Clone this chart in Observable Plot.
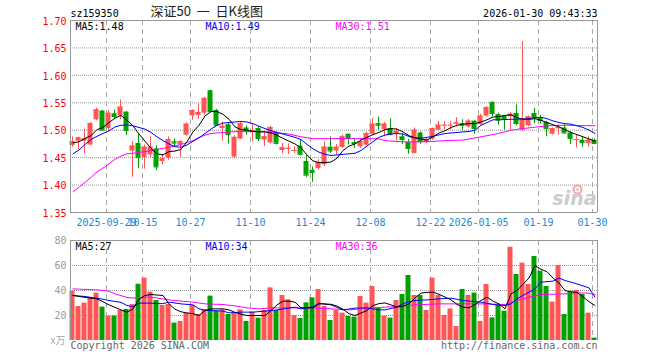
<!DOCTYPE html>
<html><head><meta charset="utf-8">
<script src="https://cdn.jsdelivr.net/npm/d3@7"></script>
<script src="https://cdn.jsdelivr.net/npm/@observablehq/plot@0.6"></script>
<style>
body{margin:0;background:#fff;}
#chart{position:relative;width:660px;height:360px;overflow:hidden;background:#fff;}
#chart svg{position:absolute;left:0;}
</style></head><body><div id="chart"></div>
<script>
const dates = ["2025-09-19","2025-09-22","2025-09-23","2025-09-24","2025-09-25","2025-09-26","2025-09-29","2025-09-30","2025-10-09","2025-10-10",
"2025-10-13","2025-10-14","2025-10-15","2025-10-16","2025-10-17","2025-10-20","2025-10-21","2025-10-22","2025-10-23","2025-10-24",
"2025-10-27","2025-10-28","2025-10-29","2025-10-30","2025-10-31","2025-11-03","2025-11-04","2025-11-05","2025-11-06","2025-11-07",
"2025-11-10","2025-11-11","2025-11-12","2025-11-13","2025-11-14","2025-11-17","2025-11-18","2025-11-19","2025-11-20","2025-11-21",
"2025-11-24","2025-11-25","2025-11-26","2025-11-27","2025-11-28","2025-12-01","2025-12-02","2025-12-03","2025-12-04","2025-12-05",
"2025-12-08","2025-12-09","2025-12-10","2025-12-11","2025-12-12","2025-12-15","2025-12-16","2025-12-17","2025-12-18","2025-12-19",
"2025-12-22","2025-12-23","2025-12-24","2025-12-25","2025-12-26","2025-12-29","2025-12-30","2025-12-31","2026-01-05","2026-01-06",
"2026-01-07","2026-01-08","2026-01-09","2026-01-12","2026-01-13","2026-01-14","2026-01-15","2026-01-16","2026-01-19","2026-01-20",
"2026-01-21","2026-01-22","2026-01-23","2026-01-26","2026-01-27","2026-01-28","2026-01-29","2026-01-30"];

const open = [1.472,1.480,1.480,1.473,1.519,1.535,1.503,1.530,1.526,1.533,
1.462,1.476,1.450,1.455,1.466,1.443,1.449,1.479,1.4733,1.491,
1.526,1.527,1.531,1.572,1.536,1.503,1.510,1.451,1.484,1.504,
1.496,1.503,1.482,1.477,1.4957,1.463,1.466,1.462,1.471,1.443,
1.427,1.430,1.437,1.469,1.462,1.4685,1.4927,1.4776,1.4697,1.4727,
1.4927,1.512,1.501,1.503,1.4927,1.488,1.4776,1.4576,1.495,1.4776,
1.4836,1.500,1.5085,1.5085,1.511,1.512,1.506,1.5165,1.510,1.5257,
1.5507,1.5287,1.5257,1.5244,1.5305,1.500,1.508,1.5305,1.522,1.514,
1.4927,1.503,1.504,1.495,1.4823,1.4817,1.4756,1.4817];
const high = [1.488,1.487,1.502,1.514,1.540,1.536,1.536,1.537,1.555,1.534,
1.479,1.493,1.473,1.488,1.471,1.455,1.488,1.484,1.481,1.513,
1.537,1.548,1.560,1.573,1.538,1.515,1.512,1.490,1.514,1.508,
1.510,1.506,1.497,1.507,1.497,1.476,1.475,1.470,1.482,1.455,
1.433,1.446,1.479,1.488,1.474,1.491,1.493,1.485,1.484,1.496,
1.521,1.5236,1.514,1.5206,1.503,1.494,1.483,1.504,1.497,1.485,
1.504,1.516,1.516,1.516,1.523,1.519,1.5196,1.518,1.529,1.543,
1.552,1.531,1.527,1.532,1.546,1.662,1.526,1.5397,1.527,1.516,
1.504,1.510,1.510,1.497,1.491,1.488,1.488,1.484];
const low = [1.469,1.465,1.457,1.4715,1.517,1.499,1.497,1.519,1.519,1.490,
1.414,1.430,1.429,1.450,1.426,1.437,1.445,1.470,1.451,1.489,
1.518,1.520,1.528,1.533,1.507,1.480,1.475,1.449,1.483,1.491,
1.479,1.479,1.470,1.475,1.473,1.457,1.456,1.458,1.453,1.414,
1.405,1.428,1.434,1.458,1.455,1.467,1.473,1.467,1.467,1.471,
1.491,1.500,1.488,1.491,1.480,1.474,1.456,1.457,1.474,1.476,
1.482,1.499,1.500,1.501,1.506,1.500,1.504,1.4927,1.509,1.524,
1.524,1.509,1.500,1.500,1.508,1.497,1.506,1.512,1.511,1.488,
1.491,1.491,1.493,1.474,1.4676,1.469,1.469,1.474];
const close = [1.479,1.486,1.484,1.512,1.537,1.500,1.531,1.525,1.542,1.4995,
1.471,1.450,1.469,1.469,1.433,1.448,1.483,1.4765,1.479,1.511,
1.536,1.532,1.558,1.534,1.509,1.507,1.492,1.487,1.512,1.499,
1.499,1.485,1.488,1.505,1.476,1.468,1.467,1.463,1.456,1.418,
1.423,1.441,1.469,1.462,1.469,1.488,1.4848,1.4758,1.479,1.494,
1.511,1.509,1.511,1.492,1.498,1.483,1.4667,1.500,1.479,1.482,
1.503,1.509,1.509,1.509,1.5133,1.509,1.5165,1.503,1.5257,1.541,
1.5305,1.5183,1.5214,1.5293,1.5122,1.5183,1.5244,1.5226,1.518,1.503,
1.503,1.5045,1.495,1.4847,1.483,1.4774,1.4817,1.4756];
const volume = [39.5,27.2,29.9,34.1,37.9,26.7,19.5,19.5,24.0,24.8,
28.8,45.0,49.9,38.7,32.0,28.0,28.8,13.9,15.2,21.9,
28.0,20.8,24.5,35.5,23.5,24.5,20.8,21.9,24.5,15.2,
22.7,17.9,24.0,42.1,24.0,36.0,32.5,20.0,17.6,30.1,
34.1,40.8,27.2,16.0,24.0,21.9,19.2,18.7,35.2,29.9,
43.2,26.1,19.5,17.9,32.0,36.8,52.0,36.0,36.0,24.0,
49.9,36.0,20.0,25.3,11.2,40.8,36.0,37.9,15.2,44.8,
18.1,28.0,23.5,74.6,52.8,61.9,44.8,67.2,55.5,43.2,
30.7,60.0,20.8,38.7,40.0,36.8,21.9,1.9];

const ma5 = [1.477,1.479,1.485,1.490,1.501,1.505,1.514,1.522,1.527,1.518,
1.508,1.493,1.480,1.467,1.457,1.455,1.461,1.462,1.465,1.479,
1.497,1.509,1.526,1.534,1.534,1.529,1.520,1.506,1.501,1.500,
1.498,1.497,1.497,1.495,1.491,1.485,1.480,1.475,1.468,1.455,
1.444,1.441,1.441,1.442,1.449,1.463,1.471,1.475,1.482,1.487,
1.492,1.496,1.501,1.503,1.502,1.497,1.490,1.486,1.484,1.482,
1.488,1.495,1.499,1.505,1.509,1.511,1.512,1.512,1.515,1.519,
1.524,1.525,1.527,1.528,1.523,1.520,1.520,1.521,1.518,1.514,
1.510,1.506,1.501,1.496,1.492,1.488,1.484,1.480];
const ma10 = [1.457,1.464,1.474,1.483,1.489,1.494,1.499,1.506,1.509,1.5097,
1.508,1.505,1.502,1.496,1.488,1.481,1.475,1.470,1.469,1.473,
1.480,1.486,1.494,1.502,1.509,1.513,1.514,1.515,1.516,1.515,
1.512,1.507,1.503,1.499,1.496,1.493,1.490,1.487,1.483,1.474,
1.466,1.460,1.456,1.454,1.455,1.456,1.457,1.458,1.463,1.471,
1.479,1.487,1.491,1.493,1.494,1.493,1.4885,1.486,1.4855,1.487,
1.489,1.4915,1.494,1.495,1.4958,1.497,1.4976,1.500,1.509,1.514,
1.519,1.519,1.5195,1.520,1.520,1.5205,1.521,1.523,1.5237,1.521,
1.517,1.514,1.512,1.511,1.508,1.505,1.500,1.494];
const ma30 = [[0,1.388],[1,1.396],[2,1.405],[3,1.414],[4,1.424],[5,1.431],[6,1.439],[7,1.447],[8,1.453],[9,1.457],
[10,1.458],[12,1.461],[14,1.465],[16,1.469],[18,1.474],[20,1.481],[21,1.487],[22,1.491],[23,1.494],[25,1.496],
[27,1.4975],[31,1.4975],[34,1.4955],[36,1.493],[38,1.488],[40,1.4845],[45,1.4848],[50,1.4845],[51,1.4842],[52,1.481],
[54,1.4795],[56,1.4785],[59,1.479],[62,1.481],[65,1.482],[67,1.486],[69,1.490],[70,1.492],[72,1.497],[73,1.500],
[75,1.503],[77,1.5055],[79,1.508],[82,1.509],[87,1.508]];

const volMA5 = [[0,36],[2,34.5],[4,33.3],[5,31],[6,28.5],[7,26.5],[8,24.5],[9,22.7],[10,25.3],[11,33],[12,36],[13,36.8],[15,36],[16,29.3],[17,25],[18,23],[19,22],[20,21.5],[21,20],[22,24],[23,25.3],[25,25.3],[26,24.5],[27,22.5],[28,21],[29,20],[32,20],[33,24],[34,28.5],[35,31.5],[36,31.5],[37,30.7],[38,26.1],[40,26.1],[41,29.3],[43,29],[44,27.5],[45,25],[46,21.5],[47,20],[48,22],[49,24],[50,28],[51,29.5],[52,30.1],[53,28.5],[54,26.7],[55,27.5],[56,29.3],[57,34],[58,37.9],[59,38.5],[60,38.7],[61,37],[62,34.7],[63,32.5],[64,29],[65,26.7],[66,26.1],[67,29],[68,32],[69,34.7],[70,31.5],[71,29.3],[72,25.3],[73,37.3],[74,40],[75,45],[76,50],[77,60],[78,57],[79,55],[80,50],[81,46],[82,40],[83,39],[84,38.5],[85,35],[86,31],[87,28]];
const volMA10 = [[0,36],[2,35.2],[4,33.8],[5,33],[6,32],[8,30.5],[9,28],[10,27],[11,29.9],[13,29.9],[14,29.5],[15,29.5],[16,30.7],[18,29.3],[20,28.5],[21,25.3],[22,24.3],[23,24],[25,23.5],[26,22.1],[28,22.7],[30,22.7],[32,23.5],[34,24.5],[36,26],[37,26.7],[38,25.3],[40,27],[41,29.9],[43,28.5],[45,24.5],[47,25.9],[49,26.1],[51,24.5],[52,24.5],[54,26.7],[55,29.5],[56,31],[57,32],[59,32.5],[61,33.3],[63,33.9],[64,33],[65,32],[66,31.5],[68,30.7],[70,28.8],[72,28],[73,29.3],[74,33.3],[76,38.7],[77,41.3],[78,46.7],[80,47.5],[81,50],[82,48],[84,45.3],[86,42.1],[87,34.7]];
const volMA30 = [[0,41.3],[4,40.5],[6,39.5],[7,37.3],[9,34.5],[10,33.9],[12,34.7],[13,34.7],[16,32.5],[18,31.5],[20,30.7],[22,29.3],[25,28.8],[27,27.7],[29,26.1],[31,25.3],[33,26.1],[40,26.1],[43,25.3],[46,24.5],[50,26.1],[54,27.2],[57,28.5],[61,29.3],[69,29.3],[72,28.8],[74,32],[76,34.7],[78,36.8],[82,37.3],[84,38.1],[86,37.9],[87,36.5]];

const priceTicks = [1.35,1.40,1.45,1.50,1.55,1.60,1.65,1.70];
const volTicks = [20,40,60,80];
const gridDates = ["2025-09-29","2025-10-15","2025-10-27","2025-11-10","2025-11-24","2025-12-08","2025-12-22","2026-01-05","2026-01-19","2026-01-30"];
const gridLabels = ["2025-09-29","10-15","10-27","11-10","11-24","12-08","12-22","2026-01-05","01-19","01-30"];
const priceLegend = ["MA5:1.48","MA10:1.49","MA30:1.51"];
const volLegend = ["MA5:27","MA10:34","MA30:36"];
const symbol = "sz159350";
const title = "深证50\u00a0\u00a0一\u00a0\u00a0日K线图";
const stamp = "2026-01-30 09:43:33";

const RED = "#ff5555", GREEN = "#00a000", DATE_BLUE = "#1a8ad4";
const MA_COLORS = ["#000000", "#0000ff", "#ff00ff"];
const MONO = "DejaVu Sans Mono, monospace";
const n = dates.length;
const half = 2.5 / 6;
const gridIdx = gridDates.map(d => dates.indexOf(d));
const candles = dates.map((date, i) => ({
  i, date, open: open[i], high: high[i], low: low[i], close: close[i], volume: volume[i],
  color: close[i] >= open[i] ? RED : GREEN
}));
const legendOffsets = [5, 135, 265];

const X = {type: "linear", domain: [-5/12, n - 1 + 5/12], axis: null};
const base = {
  width: 660, marginLeft: 70, marginRight: 63, x: X, color: {type: "identity"},
  style: {fontFamily: MONO, fontSize: "10px", overflow: "visible", background: "transparent"}
};
const gridRule = Plot.ruleX(gridIdx, {x: d => d - 5/12, stroke: "#a8a8a8", strokeDasharray: "5,4"});
const legendMarks = (labels, dy) => labels.map((t, k) => Plot.text([t], {
  text: d => d, frameAnchor: "top-left", textAnchor: "start", lineAnchor: "bottom",
  dx: legendOffsets[k], dy, fill: MA_COLORS[k], fontFamily: MONO, fontSize: 10
}));

const pricePlot = Plot.plot({
  ...base, height: 232, marginTop: 20, marginBottom: 20,
  y: {domain: [1.35, 1.70], axis: null},
  marks: [
    Plot.ruleY(priceTicks.slice(1, -1), {stroke: "#999", strokeDasharray: "1,1"}),
    gridRule,
    Plot.dot([0], {frameAnchor: "bottom-right", dx: -20, dy: -23, r: 4, stroke: "#f3a6a6", strokeWidth: 2, fill: "none"}),
    Plot.dot([0], {frameAnchor: "bottom-right", dx: -20, dy: -23, r: 1.3, fill: "#f3a6a6", stroke: "none"}),
    Plot.text(["sina"], {text: d => d, frameAnchor: "bottom-right", textAnchor: "end", lineAnchor: "bottom", dx: -1, dy: -8, fontSize: 19, fontWeight: "bold", fontStyle: "italic", fill: "#cccccc", fontFamily: "DejaVu Sans"}),
    Plot.ruleX(candles, {x: "i", y1: "low", y2: "high", stroke: "color", dx: -0.5}),
    Plot.rect(candles, {x1: d => d.i - half, x2: d => d.i + half, y1: "open", y2: "close", fill: "color", dx: -0.5}),
    Plot.ruleY(candles, {x1: d => d.i - half, x2: d => d.i + half, y: "close", stroke: "color", dx: -0.5}),
    Plot.line(ma30, {x: d => d[0], y: d => d[1], stroke: MA_COLORS[2], strokeWidth: 1}),
    Plot.line(ma10, {x: (d, i) => i, y: d => d, stroke: MA_COLORS[1], strokeWidth: 1}),
    Plot.line(ma5, {x: (d, i) => i, y: d => d, stroke: MA_COLORS[0], strokeWidth: 1}),
    Plot.ruleY([1.35, 1.70], {stroke: "#999"}),
    Plot.ruleX([-5/12, n - 1 + 5/12], {stroke: "#999"}),
    Plot.text(priceTicks, {y: d => d, text: d => d.toFixed(2), frameAnchor: "left", textAnchor: "end", dx: -4, dy: 1, fill: "#ff0000", fontFamily: MONO, fontSize: 10}),
    Plot.text(gridLabels, {x: (d, k) => gridIdx[k] - 5/12, text: d => d, frameAnchor: "bottom", lineAnchor: "middle", dy: 10, fill: DATE_BLUE, fontFamily: MONO, fontSize: 10}),
    Plot.text([symbol], {text: d => d, frameAnchor: "top-left", textAnchor: "start", lineAnchor: "bottom", dy: -4, fill: "#000", fontFamily: MONO, fontSize: 10}),
    Plot.text([title], {text: d => d, frameAnchor: "top-left", textAnchor: "start", lineAnchor: "bottom", dx: 80, dy: -5, fill: "#222", fontFamily: "Noto Sans CJK SC", fontSize: 13}),
    Plot.text([stamp], {text: d => d, frameAnchor: "top-right", textAnchor: "end", lineAnchor: "bottom", dy: -4, fill: "#000", fontFamily: MONO, fontSize: 10}),
    ...legendMarks(priceLegend, 9)
  ]
});

const volPlot = Plot.plot({
  ...base, height: 128, marginTop: 8, marginBottom: 20,
  y: {domain: [0, 80], axis: null},
  marks: [
    Plot.ruleY(volTicks.slice(0, -1), {stroke: "#999", strokeDasharray: "1,1"}),
    gridRule,
    Plot.rect(candles, {x1: d => d.i - half, x2: d => d.i + half, y1: 0, y2: "volume", fill: "color", dx: -0.5}),
    Plot.line(volMA30, {x: d => d[0], y: d => d[1], stroke: MA_COLORS[2], strokeWidth: 1}),
    Plot.line(volMA10, {x: d => d[0], y: d => d[1], stroke: MA_COLORS[1], strokeWidth: 1}),
    Plot.line(volMA5, {x: d => d[0], y: d => d[1], stroke: MA_COLORS[0], strokeWidth: 1}),
    Plot.ruleY([80], {stroke: "#999"}),
    Plot.ruleX([-5/12, n - 1 + 5/12], {stroke: "#999"}),
    Plot.text(volTicks, {y: d => d, text: d => String(d), frameAnchor: "left", textAnchor: "end", dx: -4, fill: "#999", fontFamily: MONO, fontSize: 10}),
    Plot.text(["x万"], {text: d => d, frameAnchor: "bottom-left", textAnchor: "end", lineAnchor: "bottom", dx: -5, dy: 3, fill: "#aaa", fontFamily: "Noto Sans CJK SC", fontSize: 10}),
    Plot.text(["Copyright 2026 SINA.COM"], {text: d => d, frameAnchor: "bottom-left", textAnchor: "start", lineAnchor: "bottom", dy: 8, fill: "#666", fontFamily: MONO, fontSize: 10}),
    Plot.text(["http://finance.sina.com.cn"], {text: d => d, frameAnchor: "bottom-right", textAnchor: "end", lineAnchor: "bottom", dy: 8, fill: "#666", fontFamily: MONO, fontSize: 10}),
    ...legendMarks(volLegend, 9.5)
  ]
});

const chart = document.getElementById("chart");
pricePlot.style.top = "0px";
volPlot.style.top = "232px";
chart.appendChild(pricePlot);
chart.appendChild(volPlot);
</script>
</body></html>
